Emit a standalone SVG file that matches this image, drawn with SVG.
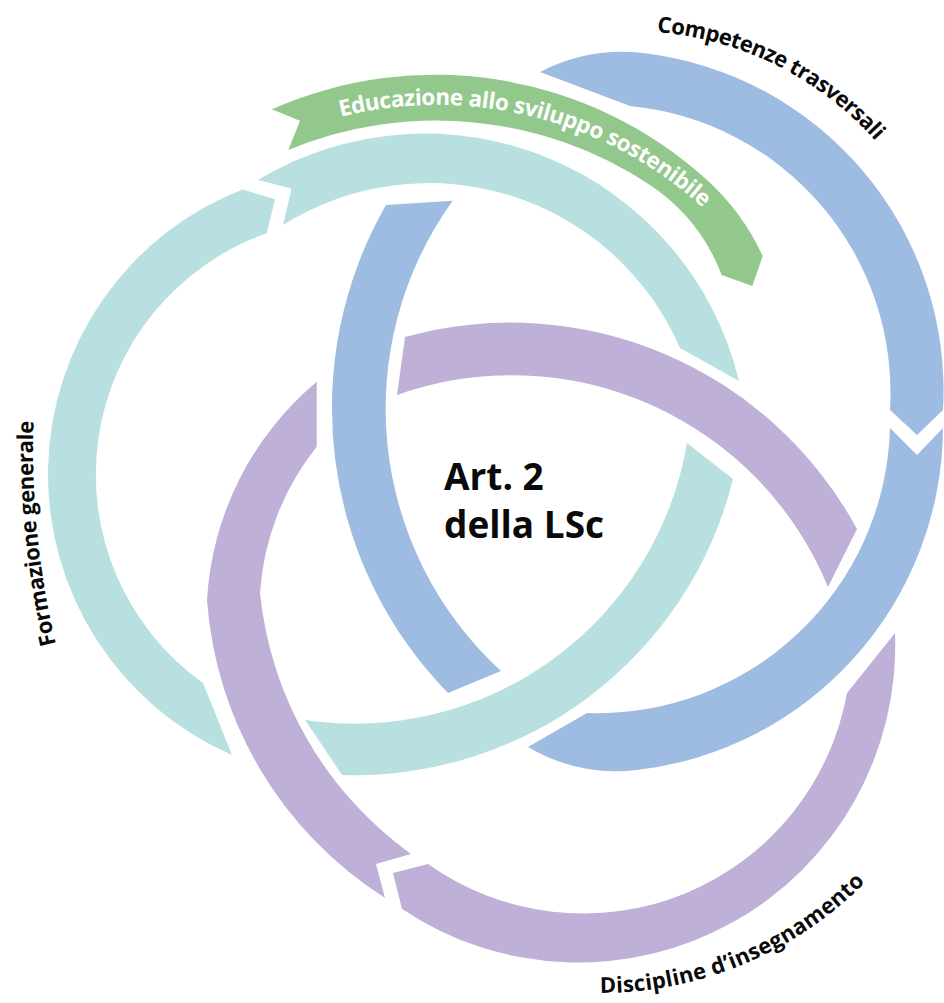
<svg xmlns="http://www.w3.org/2000/svg" width="944" height="1003" viewBox="0 0 944 1003">
<style>
.teal{fill:#b8e0e0}
.blue{fill:#9ebbe2}
.purple{fill:#bfb0d7}
.green{fill:#93c88d}
.lbl{font-family:"Open Sans","Noto Sans","DejaVu Sans",sans-serif;font-weight:700;font-size:22px;fill:#0a0a0a}
.rib{font-family:"Open Sans","Noto Sans","DejaVu Sans",sans-serif;font-weight:700;font-size:22.5px;fill:#ffffff}
.title{font-family:"Open Sans","Noto Sans","DejaVu Sans",sans-serif;font-weight:700;font-size:37px;fill:#0a0a0a}
</style>
<defs>
<path id="pGreen" d="M 210.4,176.4 A 395 395 0 0 1 808.2,364.9"/>
<path id="pComp" d="M 656.9,32.1 A 329 329 0 0 1 939.2,247.5"/>
<path id="pDisc" d="M 600,993 A 373 373 0 0 0 950.5,747.6"/>
<path id="pForm" d="M 65.5,680 A 831 831 0 0 1 37.9,360"/>
</defs>
<rect width="944" height="1003" fill="#ffffff"/>
<g id="ring-teal">
<path class="teal" d="M 232,755 A 306 306 0 0 1 242.5,189.4 L 275,199.3 L 266.7,233.3 A 256 256 0 0 0 203,683 Z"/>
<path class="teal" d="M 258,180 A 323 323 0 0 1 739,381 L 680,348 A 274 274 0 0 0 283,225 L 291.5,188.5 Z"/>
<path class="teal" d="M 733,479 A 390 390 0 0 1 342,775 L 305,720 A 337 337 0 0 0 687,443 Z"/>
</g>
<g id="ring-blue">
<path class="blue" d="M 540,72 A 182 182 0 0 1 643,53 A 340 340 0 0 1 943,410 L 917,435 L 890,410 A 288 288 0 0 0 630,106 Z"/>
<path class="blue" d="M 943,428 A 346 346 0 0 1 637,770 A 175 175 0 0 1 528,747 L 587,713 A 293 293 0 0 0 890,428 L 917,455 Z"/>
<path class="blue" d="M 448,693 A 408 408 0 0 1 386,205 L 452.7,200.7 A 356 356 0 0 0 501,671 Z"/>
</g>
<g id="ring-purple">
<path class="purple" d="M 405,337 A 394 394 0 0 1 857,529 L 828,587 A 342 342 0 0 0 397,395 Z"/>
<path class="purple" d="M 385,898 A 386 386 0 0 1 207,600 A 308 308 0 0 1 316.7,381.7 L 316.7,446.7 A 262 262 0 0 0 260,593 A 367 367 0 0 0 411,854 L 376,864 Z"/>
<path class="purple" d="M 402,909 A 317 317 0 0 0 895,633 L 847,693 A 268 268 0 0 1 428,864 L 393,873 Z"/>
</g>
<g id="ribbon-green">
<path class="green" d="M 271.7,109.3 A 404 404 0 0 1 707,180 A 236 236 0 0 1 762.7,256 L 752.3,286 L 721.7,275 A 190 190 0 0 0 650,185 A 387 387 0 0 0 288.3,150 L 300,120.7 Z"/>
<text class="rib"><textPath href="#pGreen" startOffset="144" textLength="389" lengthAdjust="spacing">Educazione allo sviluppo sostenibile</textPath></text>
</g>
<g id="labels">
<text class="lbl"><textPath href="#pComp" textLength="250" lengthAdjust="spacing">Competenze trasversali</textPath></text>
<text class="lbl"><textPath href="#pDisc" textLength="295" lengthAdjust="spacing">Discipline d’insegnamento</textPath></text>
<text class="lbl"><textPath href="#pForm" startOffset="37" textLength="225" lengthAdjust="spacing">Formazione generale</textPath></text>
</g>
<g id="center-title">
<text class="title" x="444" y="490">Art. 2</text>
<text class="title" x="444" y="538">della LSc</text>
</g>
</svg>
